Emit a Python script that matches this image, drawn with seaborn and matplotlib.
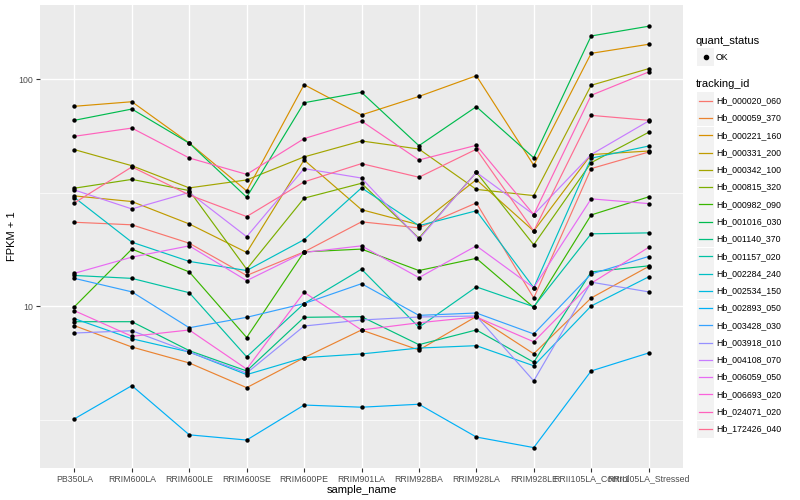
import numpy as np
import pandas as pd
import seaborn as sns
import matplotlib.pyplot as plt
from matplotlib.patches import Rectangle
from matplotlib.lines import Line2D
from matplotlib.ticker import FixedLocator, NullFormatter

# sample order on the x axis
samples = ['PB350LA', 'RRIM600LA', 'RRIM600LE', 'RRIM600SE', 'RRIM600PE', 'RRIM901LA',
           'RRIM928BA', 'RRIM928LA', 'RRIM928LE', 'RRII105LA_Control', 'RRII105LA_Stressed']

tracking_ids = ['Hb_000020_060', 'Hb_000059_370', 'Hb_000221_160', 'Hb_000331_200',
                'Hb_000342_100', 'Hb_000815_320', 'Hb_000982_090', 'Hb_001016_030',
                'Hb_001140_370', 'Hb_001157_020', 'Hb_002284_240', 'Hb_002534_150',
                'Hb_002893_050', 'Hb_003428_030', 'Hb_003918_010', 'Hb_004108_070',
                'Hb_006059_050', 'Hb_006693_020', 'Hb_024071_020', 'Hb_172426_040']

# ggplot default hue palette for 20 groups
hue_colors = ['#F8766D', '#EA8331', '#D89000', '#C09B00', '#A3A500', '#7CAE00', '#39B600',
              '#00BB4E', '#00BF7D', '#00C1A3', '#00BFC4', '#00BAE0', '#00B0F6', '#35A2FF',
              '#9590FF', '#C77CFF', '#E76BF3', '#FA62DB', '#FF62BC', '#FF6C91']

# FPKM + 1 per gene, one value per sample
hb_000020_060 = [23.5, 22.9, 19.0, 13.7, 17.4, 23.6, 22.2, 28.6, 10.9, 40.5, 47.9]
hb_000059_370 = [8.23, 6.63, 5.64, 4.39, 5.95, 7.88, 6.43, 9.04, 6.19, 10.9, 15.0]
hb_000221_160 = [76.2, 79.8, 52.5, 32.3, 94.9, 69.8, 84.2, 103.9, 41.9, 130.4, 142.9]
hb_000331_200 = [30.7, 29.0, 23.1, 17.3, 44.2, 26.7, 22.9, 36.2, 21.5, 46.7, 48.4]
hb_000342_100 = [49.1, 41.7, 33.3, 36.1, 45.6, 53.6, 49.4, 32.8, 30.8, 94.3, 111.6]
hb_000815_320 = [33.2, 36.3, 32.4, 14.6, 30.0, 34.9, 20.0, 39.0, 18.7, 43.0, 58.5]
hb_000982_090 = [9.98, 17.9, 14.2, 7.3, 17.4, 17.9, 14.4, 16.3, 9.9, 25.3, 30.4]
hb_001016_030 = [66.1, 74.1, 52.4, 30.3, 79.0, 87.8, 51.1, 75.9, 45.2, 155.5, 171.6]
hb_001140_370 = [8.57, 8.57, 6.39, 5.20, 8.96, 9.02, 6.79, 7.88, 5.68, 14.2, 15.1]
hb_001157_020 = [13.7, 13.3, 11.5, 6.0, 10.3, 14.6, 8.1, 12.2, 9.98, 20.9, 21.1]
hb_002284_240 = [30.2, 19.2, 15.8, 14.4, 19.7, 33.3, 22.7, 26.4, 12.1, 45.0, 50.9]
hb_002534_150 = [8.84, 7.21, 6.30, 5.01, 5.95, 6.18, 6.56, 6.72, 5.48, 10.05, 13.5]
hb_002893_050 = [3.20, 4.48, 2.72, 2.58, 3.68, 3.60, 3.71, 2.66, 2.39, 5.20, 6.24]
hb_003428_030 = [13.3, 11.6, 8.06, 8.96, 10.3, 12.6, 9.14, 9.36, 7.57, 13.9, 16.6]
hb_003918_010 = [7.64, 7.82, 6.30, 5.09, 8.20, 8.72, 8.99, 9.08, 4.70, 12.8, 11.6]
hb_004108_070 = [32.6, 26.9, 31.8, 20.3, 40.5, 36.8, 19.8, 39.0, 25.4, 46.7, 65.6]
hb_006059_050 = [14.0, 16.5, 18.5, 13.0, 17.3, 18.5, 13.4, 18.5, 12.1, 29.8, 28.4]
hb_006693_020 = [9.58, 7.39, 7.88, 5.30, 11.55, 7.88, 8.48, 8.99, 6.99, 12.65, 18.2]
hb_024071_020 = [56.2, 61.1, 45.1, 38.2, 54.9, 65.6, 44.2, 51.3, 25.4, 85.2, 107.9]
hb_172426_040 = [28.6, 41.2, 31.0, 24.9, 35.4, 42.6, 37.1, 49.3, 21.5, 69.5, 66.1]

series = [hb_000020_060, hb_000059_370, hb_000221_160, hb_000331_200, hb_000342_100,
          hb_000815_320, hb_000982_090, hb_001016_030, hb_001140_370, hb_001157_020,
          hb_002284_240, hb_002534_150, hb_002893_050, hb_003428_030, hb_003918_010,
          hb_004108_070, hb_006059_050, hb_006693_020, hb_024071_020, hb_172426_040]

df = pd.DataFrame({
    'sample_name': samples * len(tracking_ids),
    'tracking_id': np.repeat(tracking_ids, len(samples)),
    'fpkm': np.concatenate(series),
})

plt.rcParams['font.family'] = ['Liberation Sans', 'DejaVu Sans']

W, H = 800, 500
def fx(x):
    return x / W
def fy(y):
    return 1 - y / H

fig = plt.figure(figsize=(8, 5), dpi=100)
ax = fig.add_axes([fx(40), fy(468), (683 - 40) / W, (468 - 5) / H])
ax.set_facecolor('#EBEBEB')

palette = dict(zip(tracking_ids, hue_colors))
sns.lineplot(data=df, x='sample_name', y='fpkm', hue='tracking_id', palette=palette,
             units='tracking_id', estimator=None, sort=False, linewidth=0.85,
             legend=False, ax=ax, zorder=2)
sns.scatterplot(data=df, x='sample_name', y='fpkm', color='black', s=10, linewidth=0,
                legend=False, ax=ax, zorder=3)

ax.set_yscale('log')
ax.set_xlim(-0.6, len(samples) - 0.4)
ax.set_ylim(1.943, 212.9)
ax.set_yticks([10, 100])
ax.set_yticklabels(['10', '100'])
ax.yaxis.set_minor_locator(FixedLocator([10 ** 0.5, 10 ** 1.5]))
ax.yaxis.set_minor_formatter(NullFormatter())

ax.set_axisbelow(True)
ax.grid(which='major', color='white', linewidth=1.0)
ax.grid(which='minor', axis='y', color='white', linewidth=0.5)
for s in ax.spines.values():
    s.set_visible(False)
ax.tick_params(which='major', length=2.7, width=0.8, color='#333333',
               labelsize=6.3, labelcolor='#4D4D4D', pad=2)
ax.tick_params(which='minor', length=0)

ax.set_xlabel('sample_name', fontsize=8, labelpad=1)
ax.set_ylabel('FPKM + 1', fontsize=8, labelpad=1)

# legends drawn the ggplot way, with grey key boxes
fig.text(fx(696), fy(41), 'quant_status', fontsize=8, va='center', ha='left')
fig.add_artist(Rectangle((fx(697), fy(65.5)), 17 / W, 17 / H, transform=fig.transFigure,
                         facecolor='#F2F2F2', edgecolor='none'))
fig.add_artist(Line2D([fx(705.5)], [fy(57)], marker='o', markersize=3, color='black',
                      linestyle='none', transform=fig.transFigure))
fig.text(fx(716), fy(57), 'OK', fontsize=6.3, va='center', ha='left')

fig.text(fx(696), fy(84), 'tracking_id', fontsize=8, va='center', ha='left')
for i, (tid, col) in enumerate(zip(tracking_ids, hue_colors)):
    yc = 100.7 + i * 17.28
    fig.add_artist(Rectangle((fx(697), fy(yc + 8.5)), 17 / W, 17 / H,
                             transform=fig.transFigure, facecolor='#F2F2F2',
                             edgecolor='none'))
    fig.add_artist(Line2D([fx(699), fx(712)], [fy(yc), fy(yc)], color=col, linewidth=0.9,
                          transform=fig.transFigure))
    fig.text(fx(716), fy(yc), tid, fontsize=6.3, va='center', ha='left')

fig.savefig('out.png', dpi=100)
